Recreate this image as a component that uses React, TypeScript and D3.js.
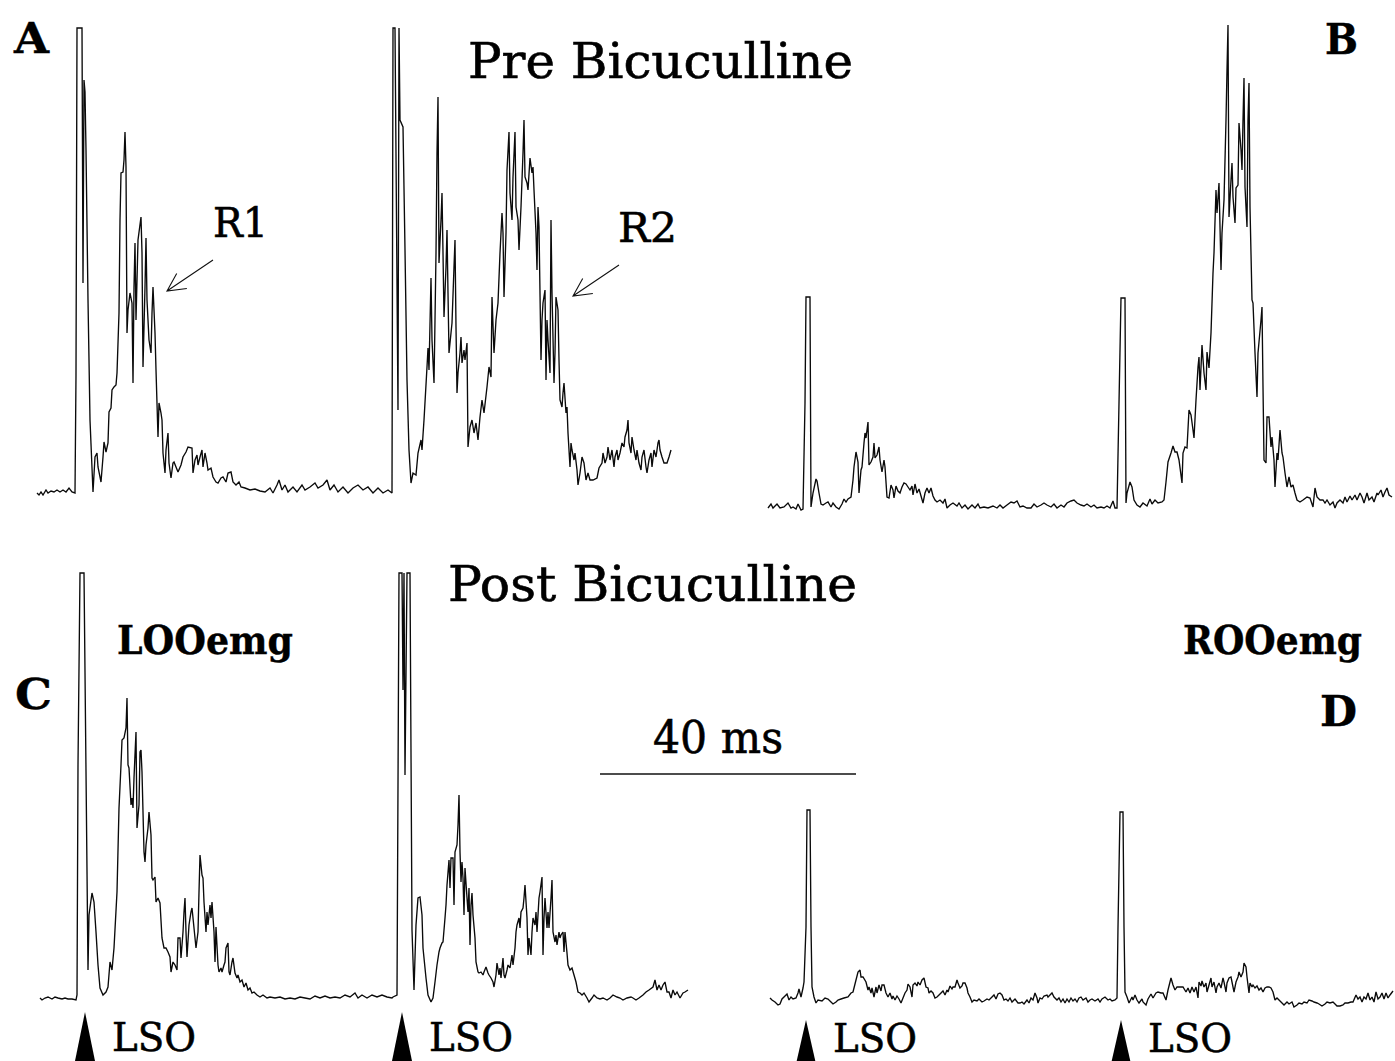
import React from "react";
import * as d3 from "d3";

// Sampling: 256 samples span the 40 ms calibration bar
const SAMPLE_MS = 40 / 256;

// Rectified EMG traces: [sample index, amplitude in µV]
const TRACE_A: [number, number][] = [
[0,-1],[2,-3],[4,0],[6,-3],[9,2],[11,-1],[14,1],[17,0],[20,2],[23,0],[26,2],[29,0],[32,4],[35,0],[38,-1],[39,117],[40,464],[45,464],[46,209],[47,412],[48,400],[49,342],[51,192],[53,72],[56,0],[58,35],[60,39],[61,25],[64,10],[66,35],[67,50],[69,40],[71,49],[72,80],[74,84],[75,102],[77,105],[79,107],[80,119],[82,179],[83,272],[84,319],[86,320],[87,332],[88,360],[89,325],[90,159],[91,182],[93,199],[95,189],[96,109],[97,205],[98,249],[99,172],[101,252],[104,275],[105,239],[106,125],[108,205],[109,254],[110,192],[112,152],[114,139],[115,179],[116,205],[118,159],[119,122],[121,55],[122,89],[124,79],[125,72],[126,39],[128,19],[129,42],[131,59],[132,29],[134,14],[136,29],[137,30],[139,25],[141,20],[144,27],[146,35],[149,40],[151,45],[155,44],[156,19],[158,32],[160,37],[161,27],[163,35],[165,42],[166,25],[168,39],[170,29],[171,22],[174,24],[176,15],[179,10],[181,9],[184,14],[186,15],[189,10],[191,19],[194,20],[196,10],[199,7],[202,10],[204,5],[208,4],[213,2],[218,3],[223,1],[228,0],[233,4],[236,-1],[240,7],[242,12],[245,2],[248,7],[251,0],[256,5],[260,0],[265,7],[268,2],[273,5],[278,9],[281,4],[286,7],[290,12],[293,2],[297,7],[301,0],[306,5],[311,-1],[316,4],[321,7],[326,2],[331,5],[336,-1],[341,4],[346,-1],[351,2],
[355,-1],[356,464],[358,464],[361,82],[362,464],[363,372],[366,365],[368,242],[370,112],[372,42],[374,9],[376,19],[379,17],[381,39],[384,52],[385,42],[387,72],[390,125],[391,144],[392,122],[394,214],[395,152],[397,109],[398,172],[399,239],[400,339],[401,395],[402,229],[404,272],[405,299],[406,239],[407,175],[409,225],[410,262],[411,199],[412,139],[414,159],[415,169],[417,225],[418,252],[419,165],[420,99],[421,119],[423,139],[424,155],[425,129],[427,142],[428,132],[430,149],[431,45],[433,65],[435,72],[437,59],[439,69],[441,52],[443,75],[445,92],[447,79],[450,105],[452,125],[454,115],[455,195],[457,139],[459,172],[461,189],[463,239],[465,279],[466,259],[467,195],[469,259],[470,322],[472,360],[473,299],[475,272],[476,315],[478,360],[479,285],[481,272],[482,242],[484,285],[486,339],[487,372],[488,315],[490,309],[491,302],[493,334],[495,319],[496,325],[497,302],[499,259],[500,222],[501,285],[502,265],[504,132],[505,172],[506,189],[508,202],[509,112],[510,172],[511,152],[513,119],[514,272],[515,199],[517,109],[518,139],[519,195],[521,182],[522,132],[523,92],[525,85],[526,99],[527,109],[529,79],[530,85],[531,59],[533,25],[534,49],[535,42],[537,32],[538,39],[540,22],[541,7],[543,19],[545,35],[547,29],[549,12],[551,19],[553,12],[556,12],[560,14],[562,24],[565,29],[566,39],[568,29],[570,35],[571,45],[573,32],[575,42],[577,25],[578,35],[580,42],[581,32],[583,39],[585,49],[587,45],[588,55],[590,62],[591,72],[592,49],[594,39],[595,55],[597,42],[599,32],[600,42],[602,29],[604,22],[605,35],[607,42],[609,25],[610,19],[612,32],[614,39],[615,25],[617,42],[619,35],[621,49],[622,52],[623,42],[625,35],[627,29],[630,29],[632,35],[634,42]
];

const TRACE_B: [number, number][] = [
[0,-1],[3,3],[5,-1],[9,3],[12,-1],[16,0],[20,4],[23,-1],[25,0],[28,-2],[30,3],[33,-3],[35,-2],[37,104],[38,210],[42,210],[43,0],[45,14],[48,28],[49,26],[51,14],[53,3],[55,2],[58,4],[60,5],[63,0],[65,4],[68,0],[71,-2],[74,3],[76,8],[78,5],[80,8],[83,10],[85,27],[86,40],[88,55],[90,45],[91,14],[93,37],[94,40],[96,64],[97,74],[98,69],[100,85],[101,42],[103,45],[105,50],[106,64],[107,49],[109,52],[111,60],[112,47],[114,35],[116,47],[117,40],[119,10],[121,9],[123,22],[125,17],[126,9],[128,21],[130,16],[132,14],[134,20],[136,24],[138,23],[140,20],[142,17],[144,21],[145,12],[147,23],[149,14],[151,18],[153,11],[155,4],[157,14],[159,19],[161,14],[163,19],[165,11],[167,7],[169,5],[172,7],[175,4],[177,8],[179,-1],[182,2],[185,4],[189,1],[191,4],[194,-1],[197,2],[200,-2],[204,2],[207,-1],[210,3],[212,-1],[216,0],[220,-1],[225,1],[229,-1],[232,2],[235,-1],[239,2],[243,5],[246,4],[249,6],[252,0],[255,1],[259,-1],[263,-1],[266,3],[269,0],[273,2],[276,4],[279,2],[283,0],[286,3],[289,-1],[293,2],[296,0],[299,4],[303,6],[306,7],[309,4],[313,2],[316,1],[319,3],[323,0],[326,2],[329,-1],[333,0],[336,-1],[339,1],[342,-1],[345,6],[347,-1],[349,-1],
[351,104],[353,209],[357,209],[358,4],[359,14],[362,25],[364,20],[366,7],[369,2],[372,0],[375,4],[379,1],[382,8],[384,3],[387,7],[390,4],[394,5],[396,7],[398,25],[400,45],[403,54],[405,61],[407,55],[409,55],[411,47],[414,24],[415,54],[417,60],[419,59],[421,97],[423,92],[425,77],[426,69],[428,107],[430,140],[431,150],[432,117],[434,162],[436,134],[438,117],[439,155],[441,139],[443,174],[445,234],[446,254],[448,317],[449,294],[451,324],[453,237],[454,274],[456,307],[458,387],[459,437],[460,482],[461,290],[463,327],[464,344],[465,310],[467,284],[468,319],[470,322],[471,384],[473,357],[474,337],[475,387],[476,429],[477,320],[479,280],[480,387],[481,424],[482,300],[484,207],[485,204],[487,154],[489,110],[490,154],[493,187],[494,200],[495,120],[496,47],[498,44],[499,90],[501,90],[503,60],[504,70],[506,47],[507,20],[509,54],[510,47],[512,77],[514,54],[515,50],[517,34],[519,20],[521,30],[523,20],[525,22],[527,14],[529,7],[532,5],[535,7],[539,10],[542,9],[545,0],[547,19],[549,10],[552,7],[555,7],[557,4],[559,7],[562,2],[565,5],[567,-1],[569,4],[572,7],[575,4],[577,10],[579,5],[582,11],[584,7],[587,12],[589,7],[592,14],[594,10],[596,4],[599,14],[601,7],[604,10],[606,5],[609,14],[610,12],[613,17],[615,10],[617,15],[619,19],[621,12],[624,10]
];

const TRACE_C: [number, number][] = [
[0,0],[2,-2],[5,0],[8,1],[12,-1],[15,1],[18,0],[22,-1],[25,0],[28,-1],[32,-1],[36,-2],[37,3],[38,233],[40,425],[44,425],[48,28],[49,83],[52,105],[54,96],[56,66],[58,33],[60,10],[63,3],[66,6],[68,11],[70,36],[72,28],[74,50],[77,106],[79,190],[81,233],[82,258],[84,260],[86,270],[87,300],[88,233],[89,230],[91,193],[92,200],[93,190],[94,220],[96,266],[97,170],[99,193],[100,246],[101,248],[102,226],[104,146],[105,136],[106,153],[108,170],[109,186],[111,163],[112,120],[113,118],[115,121],[116,96],[118,100],[120,95],[122,60],[124,50],[126,50],[128,46],[130,41],[131,26],[133,36],[135,33],[137,28],[138,60],[140,60],[141,40],[143,66],[144,86],[145,100],[146,66],[147,41],[149,73],[151,86],[152,90],[154,70],[155,60],[156,50],[158,66],[159,106],[160,143],[162,123],[163,120],[164,96],[166,66],[167,86],[168,73],[170,93],[171,80],[172,96],[174,66],[175,36],[176,71],[178,33],[179,26],[181,30],[182,26],[184,33],[185,36],[186,50],[188,55],[189,26],[190,23],[192,36],[193,40],[195,25],[197,20],[198,23],[200,16],[202,18],[204,11],[206,15],[208,8],[210,10],[212,5],[214,6],[217,3],[220,1],[223,3],[227,0],[230,1],[235,0],[240,1],[245,-1],[250,0],[255,-1],[260,1],[265,0],[270,-1],[275,2],[280,0],[285,2],[290,0],[295,1],[300,0],[305,3],[310,1],[315,5],[318,0],[322,3],[327,0],[332,3],[337,1],[342,3],[347,1],[352,0],[353,1],[357,3],
[359,425],[362,425],[363,308],[364,425],[365,223],[367,425],[370,425],[372,68],[374,8],[376,73],[378,100],[380,101],[382,83],[383,50],[386,20],[388,3],[391,-4],[393,0],[395,16],[397,33],[399,46],[400,50],[402,55],[403,56],[405,80],[406,93],[407,113],[409,138],[410,110],[411,140],[413,140],[414,93],[415,146],[417,153],[418,173],[419,203],[420,146],[421,116],[422,136],[423,120],[424,83],[425,130],[427,100],[428,86],[429,110],[430,53],[431,93],[432,105],[433,83],[435,60],[436,36],[438,26],[439,25],[441,26],[443,23],[444,26],[446,31],[448,25],[449,23],[451,20],[453,16],[454,11],[456,23],[457,35],[459,23],[460,30],[461,20],[463,40],[464,23],[465,20],[467,28],[468,33],[470,30],[472,43],[473,33],[475,50],[476,66],[477,73],[479,80],[480,70],[481,86],[483,90],[484,100],[485,113],[487,80],[488,43],[489,60],[491,43],[492,66],[493,80],[495,73],[496,86],[497,66],[499,100],[500,106],[502,121],[503,43],[504,80],[505,100],[507,70],[508,86],[509,70],[511,100],[512,118],[513,66],[515,56],[516,63],[517,53],[519,66],[520,60],[521,63],[523,66],[524,46],[525,66],[527,45],[528,33],[530,28],[532,30],[534,23],[536,16],[538,6],[540,5],[542,3],[544,5],[547,0],[549,-4],[552,0],[554,3],[557,0],[560,-1],[563,0],[567,-2],[570,0],[573,3],[577,1],[580,0],[583,-2],[587,0],[591,1],[593,0],[596,-2],[599,0],[603,3],[606,6],[609,8],[613,11],[615,18],[617,8],[619,13],[621,8],[623,13],[625,16],[627,6],[629,6],[631,0],[633,8],[635,3],[637,6],[640,0],[643,5],[645,6],[648,8]
];

const TRACE_D: [number, number][] = [
[2,2],[4,0],[7,-2],[10,-5],[12,-4],[14,1],[17,4],[19,6],[21,0],[23,3],[25,1],[28,2],[30,7],[31,11],[33,3],[35,12],[36,18],[38,73],[39,190],[42,190],[43,73],[44,13],[46,3],[48,-3],[50,0],[54,-1],[57,2],[60,1],[63,-2],[65,-4],[68,-2],[70,0],[73,1],[76,2],[80,3],[83,7],[85,8],[88,20],[90,28],[92,30],[93,23],[95,23],[98,18],[100,10],[101,13],[103,7],[104,12],[106,3],[108,13],[109,7],[111,15],[113,9],[114,15],[116,15],[118,7],[120,3],[122,7],[124,1],[125,4],[127,0],[129,4],[131,1],[133,-3],[135,2],[137,7],[139,10],[140,16],[142,13],[144,3],[145,15],[147,17],[149,14],[150,18],[152,15],[154,20],[156,22],[158,13],[160,12],[161,7],[163,9],[165,7],[167,2],[169,3],[171,5],[173,7],[175,9],[177,5],[179,10],[180,8],[182,14],[184,11],[185,13],[187,13],[189,20],[190,17],[192,12],[194,14],[195,17],[197,17],[199,12],[200,7],[202,3],[204,-2],[206,0],[209,-1],[211,1],[214,-2],[216,-1],[219,1],[221,0],[224,3],[226,5],[228,1],[230,6],[232,7],[234,5],[236,0],[238,1],[240,-1],[242,2],[244,-2],[247,1],[250,-3],[252,-3],[254,-2],[256,-4],[259,0],[261,-3],[263,2],[265,0],[267,7],[269,2],[270,-3],[272,2],[274,1],[276,4],[279,5],[280,3],[282,5],[284,7],[286,3],[289,0],[291,2],[293,-2],[295,1],[297,-3],[299,1],[301,-2],[303,2],[305,-1],[307,1],[309,-2],[311,2],[313,3],[315,0],[318,2],[320,-2],[322,0],[324,1],[327,-1],[330,1],[332,-2],[334,1],[337,3],[340,0],[342,1],[344,-1],[347,0],[349,2],
[350,73],[352,188],[355,188],[356,73],[357,8],[359,3],[361,-3],[364,3],[365,0],[367,5],[369,0],[371,-3],[374,1],[375,-2],[378,-5],[380,1],[383,6],[385,2],[388,7],[390,8],[393,7],[395,7],[398,0],[400,10],[403,22],[405,15],[407,10],[409,13],[412,13],[415,13],[418,8],[420,12],[422,7],[424,13],[426,8],[428,13],[430,2],[431,18],[433,14],[434,19],[436,13],[438,17],[439,8],[441,15],[443,22],[444,13],[446,18],[448,7],[449,13],[451,17],[453,12],[455,22],[456,18],[458,8],[459,17],[461,22],[463,23],[465,13],[466,8],[468,18],[470,23],[471,28],[473,23],[475,28],[476,37],[478,33],[479,23],[481,7],[482,17],[484,13],[485,15],[487,12],[489,14],[491,10],[493,12],[495,8],[497,12],[499,13],[501,13],[503,12],[505,8],[507,0],[509,2],[511,0],[514,-3],[516,-5],[519,-2],[521,-4],[524,-2],[526,-7],[529,-5],[531,-3],[534,-4],[536,-2],[539,-3],[541,0],[544,-1],[546,-2],[549,-3],[551,-4],[554,-6],[557,-4],[559,-2],[562,-3],[565,-2],[567,-4],[569,-6],[572,-6],[575,-5],[577,-3],[580,-3],[583,-2],[585,-2],[588,5],[590,1],[592,3],[594,-2],[596,3],[598,1],[600,7],[602,0],[604,3],[606,-2],[608,8],[610,1],[612,3],[614,7],[616,1],[618,7],[620,2],[622,5],[625,9]
];

// Stimulus (LSO) sample positions for the lower row
const STIM_C = [45, 362];
const STIM_D = [38, 353];

const TITLES = ["Pre Bicuculline", "Post Bicuculline"];
const MUSCLES = ["LOOemg", "ROOemg"];
const RESPONSES = ["R1", "R2"];
const SCALE_BAR_MS = 40;
const SCALE_BAR_START_MS = 87.5;

const FONT = "'DejaVu Serif', 'Liberation Serif', serif";

export default function App() {
  const W = 1395;
  const H = 1061;
  const PX_PER_MS = 6.4;

  const panels = [
    { key: "A", data: TRACE_A, left: 37, base: 492 },
    { key: "B", data: TRACE_B, left: 768, base: 507 },
    { key: "C", data: TRACE_C, left: 40, base: 998 },
    { key: "D", data: TRACE_D, left: 768, base: 1000 },
  ].map((p) => ({
    ...p,
    x: d3.scaleLinear().domain([0, 100]).range([p.left, p.left + 100 * PX_PER_MS]),
    y: d3.scaleLinear().domain([0, 500]).range([p.base, p.base - 500]),
  }));

  const pathFor = (p: any) =>
    d3
      .line<[number, number]>()
      .x((d) => p.x(d[0] * SAMPLE_MS))
      .y((d) => p.y(d[1]))(p.data) || "";

  const [pA, , pC, pD] = panels;

  // Arrow annotations anchored at a data point of panel A
  const arrows = [
    { label: RESPONSES[0], tip: [130, 201], text: [213, 237], w: 55 },
    { label: RESPONSES[1], tip: [536, 196], text: [618, 242], w: 59 },
  ];

  const arrowPath = (tx: number, ty: number) => {
    const dx = 46, dy = -31;
    const ang = Math.atan2(dy, dx);
    const hl = 20, spread = (27 * Math.PI) / 180;
    const h1x = tx + hl * Math.cos(ang - spread), h1y = ty + hl * Math.sin(ang - spread);
    const h2x = tx + hl * Math.cos(ang + spread), h2y = ty + hl * Math.sin(ang + spread);
    return `M${tx + dx},${ty + dy}L${tx},${ty}M${h1x},${h1y}L${tx},${ty}L${h2x},${h2y}`;
  };

  const tri = (x: number, top: number, bottom: number) =>
    `M${x},${top}L${x - 10},${bottom}L${x + 10},${bottom}Z`;

  const lso = [
    ...STIM_C.map((s) => ({ x: pC.x(s * SAMPLE_MS), top: 1012, bottom: 1061, base: 1051 })),
    ...STIM_D.map((s) => ({ x: pD.x(s * SAMPLE_MS), top: 1020, bottom: 1064, base: 1052 })),
  ];

  const barX1 = pC.x(SCALE_BAR_START_MS);
  const barX2 = pC.x(SCALE_BAR_START_MS + SCALE_BAR_MS);

  const reg = { stroke: "#000", strokeWidth: 0.6 };
  const bold = { stroke: "#000", strokeWidth: 0.4 };

  return (
    <svg
      width={W}
      height={H}
      viewBox={`0 0 ${W} ${H}`}
      style={{ position: "absolute", left: 0, top: 0, background: "#fff" }}
      fontFamily={FONT}
    >
      <rect x={0} y={0} width={W} height={H} fill="#fff" />
      {panels.map((p) => (
        <path
          key={p.key}
          d={pathFor(p)}
          fill="none"
          stroke="#0a0a0a"
          strokeWidth={1.35}
          strokeLinejoin="miter"
          strokeMiterlimit={2}
        />
      ))}

      {/* Panel letters */}
      <text x={14} y={53} fontSize={42} fontWeight="bold" textLength={35} lengthAdjust="spacingAndGlyphs" {...bold}>A</text>
      <text x={1325} y={54} fontSize={42} fontWeight="bold" textLength={33} lengthAdjust="spacingAndGlyphs" {...bold}>B</text>
      <text x={15} y={709} fontSize={42} fontWeight="bold" textLength={37} lengthAdjust="spacingAndGlyphs" {...bold}>C</text>
      <text x={1320} y={726} fontSize={42} fontWeight="bold" textLength={37} lengthAdjust="spacingAndGlyphs" {...bold}>D</text>

      {/* Titles */}
      <text x={468} y={78} fontSize={48} textLength={385} lengthAdjust="spacingAndGlyphs" {...reg}>{TITLES[0]}</text>
      <text x={448} y={601} fontSize={48} textLength={409} lengthAdjust="spacingAndGlyphs" {...reg}>{TITLES[1]}</text>

      {/* Muscle labels */}
      <text x={117} y={654} fontSize={39} fontWeight="bold" textLength={176} lengthAdjust="spacingAndGlyphs" {...bold}>{MUSCLES[0]}</text>
      <text x={1183} y={654} fontSize={39} fontWeight="bold" textLength={179} lengthAdjust="spacingAndGlyphs" {...bold}>{MUSCLES[1]}</text>

      {/* R1 / R2 annotations */}
      {arrows.map((a) => {
        const tx = pA.x(a.tip[0] * SAMPLE_MS);
        const ty = pA.y(a.tip[1]);
        return (
          <g key={a.label}>
            <path d={arrowPath(tx, ty)} fill="none" stroke="#111" strokeWidth={1.1} />
            <text x={a.text[0]} y={a.text[1]} fontSize={41} textLength={a.w} lengthAdjust="spacingAndGlyphs" {...reg}>{a.label}</text>
          </g>
        );
      })}

      {/* Scale bar */}
      <line x1={barX1} x2={barX2} y1={774} y2={774} stroke="#111" strokeWidth={1.3} />
      <text x={653} y={753} fontSize={45} textLength={130} lengthAdjust="spacingAndGlyphs" {...reg}>{`${SCALE_BAR_MS} ms`}</text>

      {/* LSO stimulus markers */}
      {lso.map((m, i) => (
        <g key={i}>
          <path d={tri(m.x, m.top, m.bottom)} fill="#000" />
          <text x={m.x + 27} y={m.base} fontSize={40} textLength={84} lengthAdjust="spacingAndGlyphs" {...reg}>LSO</text>
        </g>
      ))}
    </svg>
  );
}
